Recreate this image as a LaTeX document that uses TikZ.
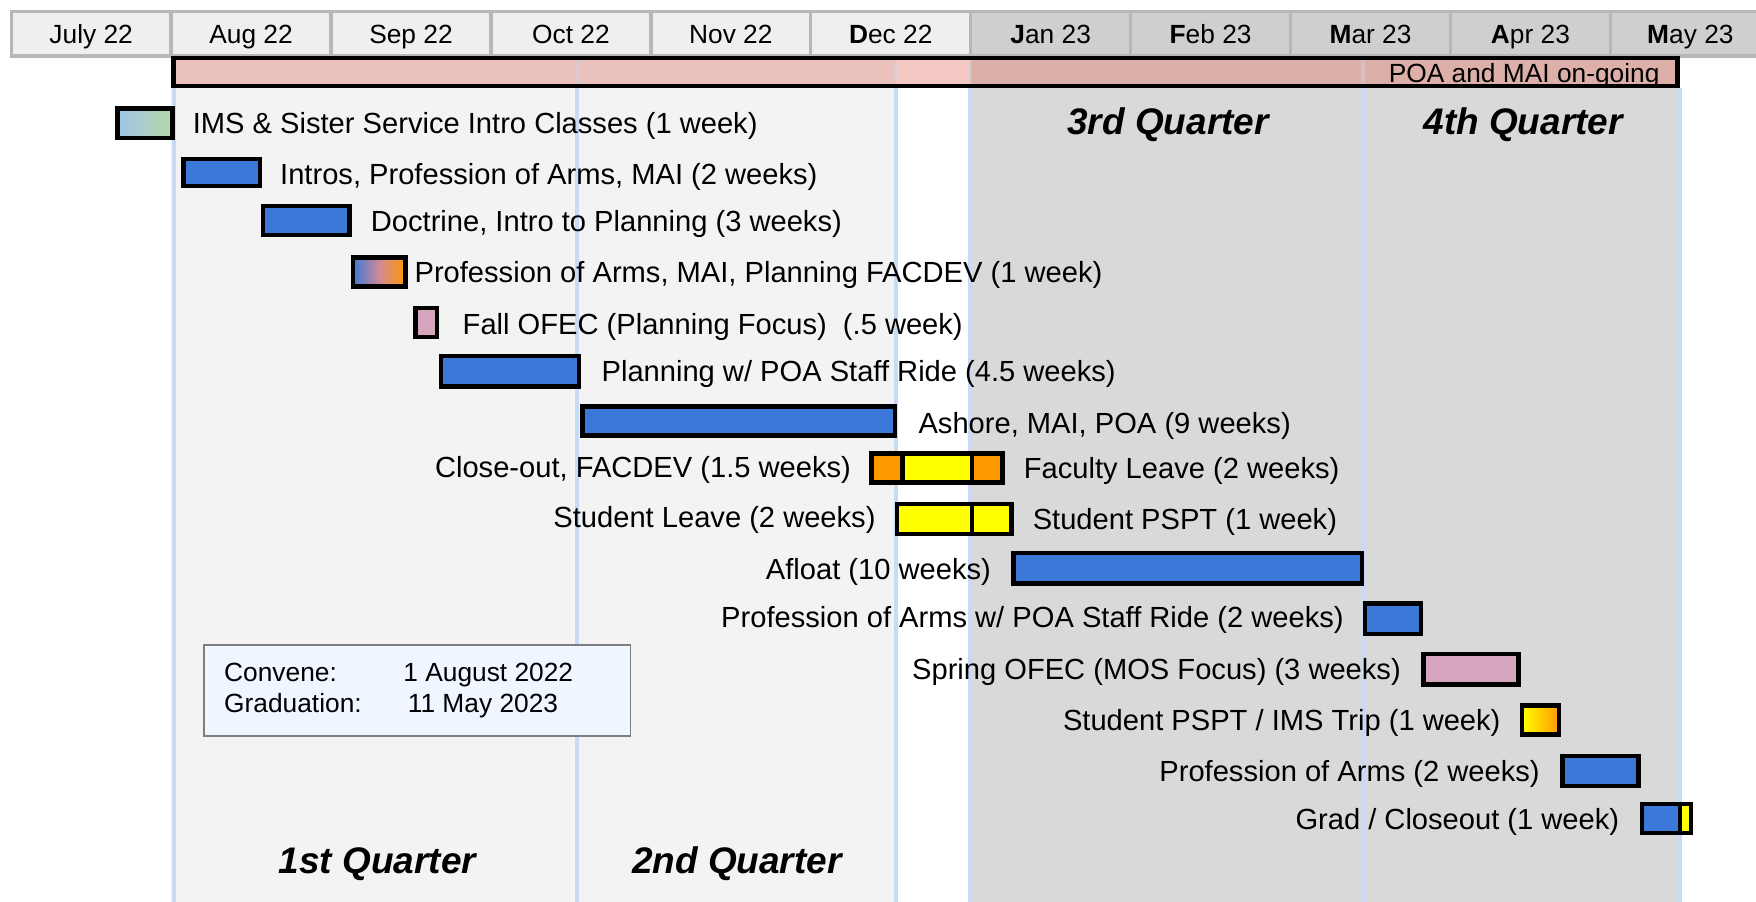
\documentclass[tikz,border=0pt]{standalone}
\usepackage{fontspec}
\setmainfont{Liberation Sans}
\definecolor{barblue}{HTML}{3C78D8}
\definecolor{barpink}{HTML}{D5A6BD}
\definecolor{baryellow}{HTML}{FFFF00}
\definecolor{barorange}{HTML}{FF9900}
\definecolor{gradmid}{HTML}{CF8A95}
\definecolor{imsblue}{HTML}{9FC5E8}
\definecolor{imsgreen}{HTML}{B6D7A8}
\definecolor{bglight}{HTML}{F3F3F3}
\definecolor{bgdark}{HTML}{D9D9D9}
\definecolor{hdrlight}{HTML}{EFEFEF}
\definecolor{hdrdark}{HTML}{CFCFCF}
\definecolor{hdrline}{HTML}{B7B7B7}
\definecolor{qline}{HTML}{C9DAF8}
\definecolor{poaA}{HTML}{EAC1BC}
\definecolor{poaB}{HTML}{F4C9C3}
\definecolor{poaC}{HTML}{DCB0A9}
\definecolor{legfill}{HTML}{EFF6FF}
\definecolor{legline}{HTML}{7F7F7F}
\newcommand\gbar[6]{\node[barbox,#6,minimum width={#4-#2-4},minimum height={#5-#3-4}] (#1) at ({(#2+#4)/2},{(#3+#5)/2}) {};}
\begin{document}
\begin{tikzpicture}[x=1pt,y=-1pt,
  barbox/.style={draw=black, line width=4pt, inner sep=0pt, rectangle},
  blue/.style={fill=barblue},
  pinkfill/.style={fill=barpink},
  divider/.style={draw=black, line width=4pt},
  lbl/.style={font=\fontsize{26}{30}\selectfont, inner sep=0pt, text=black},
  mon/.style={font=\fontsize{23.5}{28}\selectfont, inner sep=0pt, text=black},
  qlbl/.style={font=\fontsize{33}{38}\selectfont\bfseries\itshape, inner sep=0pt},
  hcell/.style={draw=hdrline, line width=3pt, minimum width=142.8, minimum height=40, inner sep=0pt, text height=16.8, text depth=0pt, font=\fontsize{23.5}{28}\selectfont},
  hL/.style={hcell, fill=hdrlight},
  hD/.style={hcell, fill=hdrdark},
  qrule/.style={draw=qline, line width=3.5pt},
  legbox/.style={draw=legline, line width=1.5pt, fill=legfill, minimum width=381, minimum height=81, inner sep=0pt},
]
\useasboundingbox (0,0) rectangle (1568,805);
% background bands
\fill[white] (0,0) rectangle (1568,805);
\fill[bglight] (153,50) rectangle (800,805);
\fill[bgdark] (866,50) rectangle (1500,805);
\foreach \qx in {155,515,800,866,1217,1500} \draw[qrule] (\qx,79) -- (\qx,805);
% header
\node[hL] (hjul) at (81.4,30) {July 22};
\node[hL] (haug) at (224.2,30) {Aug 22};
\node[hL] (hsep) at (367,30) {Sep 22};
\node[hL] (hoct) at (509.8,30) {Oct 22};
\node[hL] (hnov) at (652.6,30) {Nov 22};
\node[hL] (hdec) at (795.4,30) {\textbf{D}ec 22};
\node[hD] (hjan) at (938.2,30) {\textbf{J}an 23};
\node[hD] (hfeb) at (1081,30) {\textbf{F}eb 23};
\node[hD] (hmar) at (1223.8,30) {\textbf{M}ar 23};
\node[hD] (hapr) at (1366.6,30) {\textbf{A}pr 23};
\node[hD] (hmay) at (1509.4,30) {\textbf{M}ay 23};
% POA bar
\fill[poaA] (153,50) rectangle (800,79);
\fill[poaB] (800,50) rectangle (866,79);
\fill[poaC] (866,50) rectangle (1500,79);
\foreach \qx in {515,800,866,1217} \draw[qrule, opacity=0.35] (\qx,52) -- (\qx,77);
\node[barbox, minimum width=1343, minimum height=25] (poa) at (826.5,64.5) {};
\node[mon, anchor=base east] (poatxt) at (1482,74) {POA and MAI on-going};
% quarter labels
\node[qlbl, anchor=base] (q3) at (1043,120) {3rd Quarter};
\node[qlbl, anchor=base] (q4) at (1360,120) {4th Quarter};
\node[qlbl, anchor=base] (q1) at (337,780) {1st Quarter};
\node[qlbl, anchor=base] (q2) at (658,780) {2nd Quarter};
% bars
\gbar{b1}{103}{95}{156}{125}{left color=imsblue, right color=imsgreen}
\gbar{b2}{162}{140}{234}{168}{blue}
\gbar{b3}{233}{182}{314}{212}{blue}
\gbar{b4}{313}{228}{364}{258}{left color=barblue, right color=barorange, middle color=gradmid}
\gbar{b5}{369}{273}{392}{303}{pinkfill}
\gbar{b6}{392}{316}{519}{347}{blue}
\gbar{b7}{518}{361}{801}{391}{blue}
\gbar{b8}{776}{403}{897}{433}{fill=barorange}
\fill[baryellow] (806,407) rectangle (868,429);
\draw[divider] (806,405) -- (806,431);
\draw[divider] (868,405) -- (868,431);
\gbar{b9}{799}{448}{905}{479}{fill=baryellow}
\draw[divider] (868,450) -- (868,477);
\gbar{b10}{903}{492}{1218}{523}{blue}
\gbar{b11}{1217}{537}{1271}{568}{blue}
\gbar{b12}{1269}{582}{1358}{613}{pinkfill}
\gbar{b13}{1357}{628}{1394}{658}{left color=baryellow, right color=barorange}
\gbar{b14}{1393}{673}{1465}{704}{blue}
\gbar{b15}{1464}{716}{1512}{746}{blue}
\fill[baryellow] (1500,720) rectangle (1508,742);
\draw[divider] (1500,718) -- (1500,744);
% labels
\node[lbl, anchor=base west] (t1) at (172,119.4) {IMS \& Sister Service Intro Classes (1 week)};
\node[lbl, anchor=base west] (t2) at (250,164.4) {Intros, Profession of Arms, MAI (2 weeks)};
\node[lbl, anchor=base west] (t3) at (331,206.4) {Doctrine, Intro to Planning (3 weeks)};
\node[lbl, anchor=base west] (t4) at (370,252.4) {Profession of Arms, MAI, Planning FACDEV (1 week)};
\node[lbl, anchor=base west] (t5) at (413,298.4) {Fall OFEC (Planning Focus)~ (.5 week)};
\node[lbl, anchor=base west] (t6) at (537,340.4) {Planning w/ POA Staff Ride (4.5 weeks)};
\node[lbl, anchor=base west] (t7) at (820,387.4) {Ashore, MAI, POA (9 weeks)};
\node[lbl, anchor=base east] (t8a) at (760,426.4) {Close-out, FACDEV (1.5 weeks)};
\node[lbl, anchor=base west] (t8b) at (914,427.4) {Faculty Leave (2 weeks)};
\node[lbl, anchor=base east] (t9a) at (782,471.4) {Student Leave (2 weeks)};
\node[lbl, anchor=base west] (t9b) at (922,472.4) {Student PSPT (1 week)};
\node[lbl, anchor=base east] (t10) at (885,517.4) {Afloat (10 weeks)};
\node[lbl, anchor=base east] (t11) at (1200,560.4) {Profession of Arms w/ POA Staff Ride (2 weeks)};
\node[lbl, anchor=base east] (t12) at (1251,606.4) {Spring OFEC (MOS Focus) (3 weeks)};
\node[lbl, anchor=base east] (t13) at (1340,652.4) {Student PSPT / IMS Trip (1 week)};
\node[lbl, anchor=base east] (t14) at (1375,697.4) {Profession of Arms (2 weeks)};
\node[lbl, anchor=base east] (t15) at (1446,740.4) {Grad / Closeout (1 week)};
% legend
\node[legbox] (legend) at (372.5,616.5) {};
\node[mon, anchor=base west] (lc1) at (200,608.5) {Convene:};
\node[mon, anchor=base west] (lc2) at (360,608.5) {1 August 2022};
\node[mon, anchor=base west] (lg1) at (200,636.5) {Graduation:};
\node[mon, anchor=base west] (lg2) at (364,636.5) {11 May 2023};
\end{tikzpicture}
\end{document}
